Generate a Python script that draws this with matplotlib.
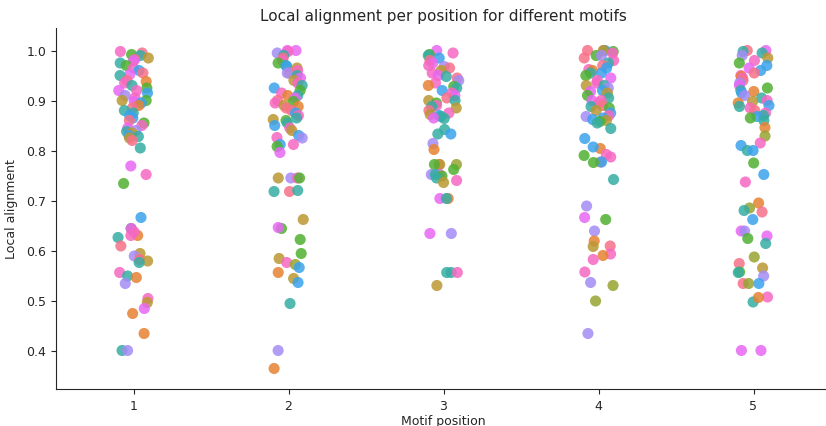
import numpy as np
import pandas as pd
import matplotlib
matplotlib.use("Agg")
import matplotlib.pyplot as plt
import seaborn as sns

# motif ids 0..11, one husl colour each
n_motifs = 12
motif_names = ["M%02d" % i for i in range(n_motifs)]

# local alignment values per motif position, with the motif each belongs to
pos1_values = [0.998, 0.995, 0.992, 0.99, 0.985, 0.982, 0.98, 0.975, 0.97, 0.965, 0.96, 0.955, 0.952, 0.95,
               0.94, 0.938, 0.935, 0.93, 0.925, 0.92, 0.92, 0.915, 0.91, 0.905, 0.90, 0.90, 0.898, 0.895,
               0.89, 0.885, 0.88, 0.875, 0.87, 0.865, 0.86, 0.855, 0.85, 0.845, 0.84, 0.838, 0.835, 0.83,
               0.828, 0.825, 0.82, 0.805,
               0.769, 0.752, 0.734, 0.666, 0.644, 0.644, 0.63, 0.637, 0.63, 0.626, 0.609, 0.594, 0.589,
               0.582, 0.579, 0.576, 0.556, 0.549, 0.546, 0.534, 0.504, 0.496, 0.484, 0.474, 0.434, 0.40, 0.40]
pos1_motifs = [11, 0, 4, 6, 2, 0, 10, 6, 4, 11, 8, 0, 10, 6,
               0, 1, 11, 6, 4, 10, 11, 8, 9, 11, 4, 2, 10, 8,
               1, 0, 6, 6, 8, 8, 0, 4, 11, 10, 9, 6, 2, 8,
               6, 2, 0, 6,
               10, 11, 4, 8, 4, 10, 1, 11, 11, 6, 0, 2, 9,
               0, 2, 6, 11, 6, 1, 9, 11, 2, 10, 1, 1, 6, 9]

pos2_values = [1.0, 1.0, 0.998, 0.995, 0.99, 0.985, 0.98, 0.975, 0.97, 0.968, 0.965, 0.96, 0.955, 0.955,
               0.95, 0.945, 0.94, 0.935, 0.93, 0.925, 0.92, 0.915, 0.91, 0.91, 0.905, 0.90, 0.898, 0.895,
               0.89, 0.888, 0.885, 0.88, 0.875, 0.87, 0.865, 0.862, 0.86, 0.855, 0.85, 0.845, 0.84,
               0.83, 0.825, 0.826, 0.812, 0.812, 0.808,
               0.796, 0.745, 0.745, 0.745, 0.745, 0.718, 0.718, 0.72, 0.662, 0.644, 0.646, 0.622, 0.594,
               0.584, 0.576, 0.572, 0.566, 0.556, 0.544, 0.536, 0.494, 0.40, 0.364]
pos2_motifs = [10, 10, 11, 9, 6, 0, 11, 4, 6, 8, 2, 11, 0, 9,
               6, 10, 2, 11, 6, 8, 4, 11, 1, 6, 10, 0, 4, 11,
               2, 1, 0, 0, 8, 11, 6, 2, 4, 6, 8, 11, 2,
               8, 9, 11, 8, 11, 4,
               10, 9, 2, 11, 4, 6, 0, 6, 2, 4, 10, 4, 4,
               2, 11, 3, 8, 1, 2, 8, 6, 9, 1]

pos3_values = [1.0, 0.995, 0.992, 0.99, 0.985, 0.98, 0.975, 0.97, 0.968, 0.965, 0.96, 0.955, 0.95, 0.948,
               0.945, 0.94, 0.935, 0.93, 0.928, 0.925, 0.92, 0.915, 0.91, 0.905, 0.90, 0.90, 0.895, 0.89,
               0.888, 0.885, 0.88, 0.875, 0.872, 0.87, 0.868, 0.865,
               0.864, 0.842, 0.833, 0.833, 0.814, 0.802, 0.772, 0.772, 0.772, 0.772, 0.762, 0.752, 0.752,
               0.752, 0.749, 0.745, 0.736, 0.74, 0.704, 0.704, 0.704, 0.634, 0.634, 0.556, 0.556, 0.556, 0.53]
pos3_motifs = [10, 11, 4, 6, 8, 0, 10, 11, 9, 0, 2, 11, 10, 6,
               0, 9, 11, 1, 4, 6, 8, 11, 10, 0, 6, 2, 4, 11,
               6, 2, 0, 11, 2, 8, 6, 10,
               6, 6, 6, 8, 9, 1, 0, 2, 4, 3, 4, 9, 10,
               6, 4, 6, 2, 11, 10, 1, 6, 9, 10, 6, 11, 6, 2]

pos4_values = [1.0, 1.0, 1.0, 1.0, 0.998, 0.995, 0.99, 0.99, 0.985, 0.98, 0.975, 0.97, 0.965, 0.962,
               0.96, 0.955, 0.955, 0.95, 0.945, 0.94, 0.935, 0.93, 0.93, 0.925, 0.92, 0.918, 0.915, 0.91,
               0.905, 0.90, 0.90, 0.895, 0.89, 0.888, 0.885, 0.88, 0.875, 0.87, 0.868, 0.865, 0.862, 0.86,
               0.858, 0.855,
               0.844, 0.824, 0.804, 0.807, 0.79, 0.792, 0.777, 0.787, 0.777, 0.776, 0.742, 0.689, 0.666,
               0.662, 0.639, 0.619, 0.609, 0.608, 0.593, 0.59, 0.582, 0.557, 0.536, 0.53, 0.499, 0.434]
pos4_motifs = [1, 8, 2, 0, 4, 11, 4, 9, 0, 11, 6, 0, 8, 11,
               1, 6, 8, 4, 10, 11, 11, 2, 6, 9, 8, 10, 2, 4,
               6, 11, 10, 11, 0, 6, 4, 2, 8, 11, 9, 8, 8, 2,
               4, 6,
               6, 8, 1, 8, 4, 11, 0, 11, 8, 4, 6, 9, 10,
               4, 9, 1, 0, 2, 11, 1, 11, 11, 9, 3, 3, 9]

pos5_values = [1.0, 1.0, 0.998, 0.995, 0.99, 0.985, 0.98, 0.975, 0.97, 0.965, 0.96, 0.955, 0.95, 0.948,
               0.945, 0.94, 0.935, 0.93, 0.925, 0.92, 0.918, 0.915, 0.91, 0.905, 0.90, 0.898, 0.895, 0.89,
               0.888, 0.885, 0.88, 0.875, 0.87, 0.868, 0.865, 0.86,
               0.846, 0.829, 0.815, 0.81, 0.80, 0.80, 0.775, 0.752, 0.737, 0.695, 0.685, 0.677, 0.68,
               0.662, 0.639, 0.639, 0.629, 0.624, 0.614, 0.587, 0.574, 0.565, 0.557, 0.549, 0.556, 0.534,
               0.534, 0.534, 0.507, 0.497, 0.506, 0.40, 0.40]
pos5_motifs = [0, 10, 6, 6, 9, 2, 11, 4, 8, 10, 8, 0, 11, 1,
               11, 0, 9, 10, 4, 6, 1, 8, 9, 6, 11, 2, 1, 8,
               6, 11, 0, 11, 6, 8, 4, 6,
               1, 3, 11, 8, 6, 8, 4, 8, 11, 1, 3, 0, 6,
               8, 10, 9, 10, 4, 6, 3, 0, 2, 4, 9, 6, 8,
               0, 3, 11, 6, 1, 10, 10]

positions = [1, 2, 3, 4, 5]
all_values = [pos1_values, pos2_values, pos3_values, pos4_values, pos5_values]
all_motifs = [pos1_motifs, pos2_motifs, pos3_motifs, pos4_motifs, pos5_motifs]

rows = []
for pos, vals, mots in zip(positions, all_values, all_motifs):
    for v, m in zip(vals, mots):
        rows.append((pos, v, motif_names[m]))
df = pd.DataFrame(rows, columns=["Motif position", "Local alignment", "Motif"])

sns.set_style("ticks")
plt.rcParams["font.family"] = ["DejaVu Sans"]

fig = plt.figure(figsize=(8.26, 4.27), dpi=100)
ax = fig.add_axes([56 / 826, 37 / 427, 775 / 826, 361 / 427])

np.random.seed(7)  # fixed jitter
sns.stripplot(data=df, x="Motif position", y="Local alignment", hue="Motif",
              hue_order=motif_names, palette=sns.husl_palette(n_motifs),
              size=8, jitter=True, alpha=0.85, legend=False, ax=ax)

ax.set_xlim(-0.5, 4.5)
ax.set_ylim(0.323, 1.045)
ax.set_title("Local alignment per position for different motifs", fontsize=11)
ax.set_xlabel("Motif position", fontsize=9, labelpad=2)
ax.set_ylabel("Local alignment", fontsize=9, labelpad=6)
ax.tick_params(labelsize=9)
sns.despine(ax=ax)

fig.savefig("out.png", dpi=100)
